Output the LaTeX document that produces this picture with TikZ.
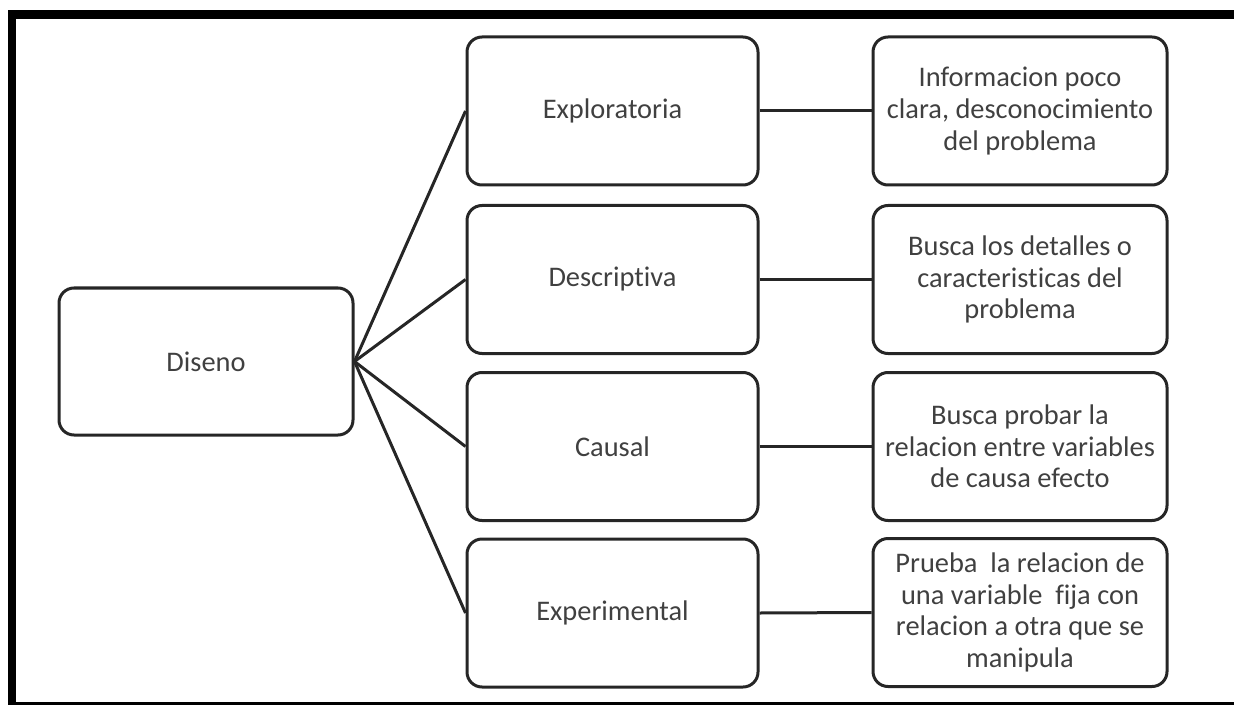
\documentclass[tikz,border=0pt]{standalone}
\usepackage{fontspec}
\setmainfont{Carlito}[RawFeature={-liga;-clig;-dlig;-calt;-rlig}]
\definecolor{linec}{HTML}{262626}
\definecolor{textc}{HTML}{404040}
\newcommand{\nolig}{\kern0pt }
\begin{document}
\begin{tikzpicture}[x=0.5pt,y=-0.5pt,
  box/.style={draw=linec, line width=1.5pt, rounded corners=7.5pt, inner sep=0pt,
    align=center, text=textc, font=\fontsize{14.2}{15.8}\selectfont,
    minimum height=74pt},
  leftbox/.style={box, minimum width=147pt, minimum height=73.5pt},
  midbox/.style={box, minimum width=145.5pt},
  rightbox/.style={box, minimum width=147pt},
  conn/.style={draw=linec, line width=1.5pt},
  framebar/.style={fill=black}]
\useasboundingbox (0,0) rectangle (1234,705);
% frame
\fill[framebar] (8,10) rectangle (1234,19);
\fill[framebar] (8,10) rectangle (16,705);
\fill[framebar] (8,702) rectangle (1234,705);
% nodes
\node[leftbox] (d) at (206,361.5) {Diseno};
\node[midbox] (m1) at (612.5,111) {Exploratoria};
\node[midbox] (m2) at (612.5,279.5) {Descript\nolig iva};
\node[midbox] (m3) at (612.5,446.5) {Causal};
\node[midbox] (m4) at (612.5,613) {Experimental};
\node[rightbox] (r1) at (1020,111) {Informacion poco\\clara, desconocimiento\\del problema};
\node[rightbox] (r2) at (1020,279.5) {Busca los detalles o\\caracterist\nolig icas del\\problema};
\node[rightbox] (r3) at (1020,446.5) {Busca probar la\\relacion entre variables\\de causa efecto};
\node[rightbox] (r4) at (1020,612.5) {Prueba~ la relacion de\\una variable~ f\nolig ija con\\relacion a otra que se\\manipula};
% connectors
\foreach \i in {1,2,3,4} {
  \draw[conn] (d.east) -- (m\i.west);
  \draw[conn] (m\i.east) -- (r\i.west);
}
\end{tikzpicture}
\end{document}
